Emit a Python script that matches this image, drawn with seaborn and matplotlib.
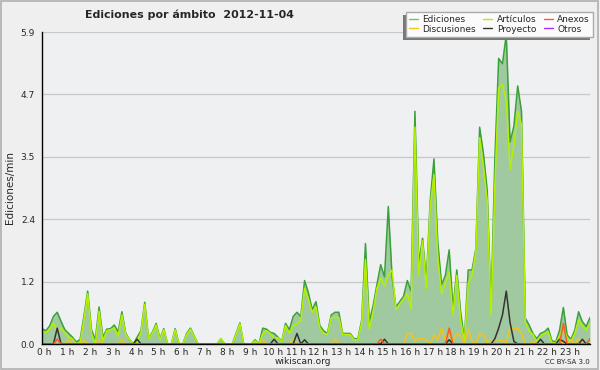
import numpy as np
import pandas as pd
import matplotlib
matplotlib.use('Agg')
import matplotlib.pyplot as plt
import matplotlib.transforms as mtransforms
from matplotlib.lines import Line2D
from matplotlib.patches import Rectangle
from matplotlib.ticker import MultipleLocator
import seaborn as sns

# Plot style settings
sns.set_style('white')
plt.rcParams['font.family'] = ['DejaVu Sans']

# Data: edits per minute, one value every 10 minutes (0 h .. 24 h)
hours = np.arange(145) / 6

ediciones = [
    0.29, 0.25, 0.34, 0.52, 0.60, 0.43, 0.27, 0.20, 0.13, 0.04, 0.08, 0.52,
    1.00, 0.27, 0.08, 0.70, 0.13, 0.28, 0.29, 0.36, 0.23, 0.61, 0.20, 0.09,
    0.00, 0.13, 0.25, 0.79, 0.11, 0.22, 0.39, 0.10, 0.29, 0.00, 0.00, 0.29,
    0.00, 0.00, 0.20, 0.30, 0.15, 0.00, 0.00, 0.00, 0.00, 0.00, 0.00, 0.10,
    0.00, 0.00, 0.00, 0.20, 0.40, 0.00, 0.00, 0.00, 0.08, 0.00, 0.30, 0.28,
    0.22, 0.20, 0.13, 0.05, 0.39, 0.27, 0.52, 0.60, 0.52, 1.20, 0.97, 0.65,
    0.80, 0.35, 0.25, 0.20, 0.55, 0.60, 0.60, 0.20, 0.20, 0.20, 0.10, 0.10,
    0.45, 1.90, 0.42, 0.72, 1.12, 1.50, 1.27, 2.60, 1.27, 0.70, 0.80, 0.90,
    1.20, 0.99, 4.40, 1.52, 2.00, 1.20, 2.70, 3.50, 1.93, 1.12, 1.30, 1.78,
    0.67, 1.40, 0.61, 0.08, 1.40, 1.40, 1.80, 4.10, 3.60, 2.90, 0.70, 3.50,
    5.40, 5.30, 5.85, 3.82, 4.12, 4.88, 4.40, 0.49, 0.36, 0.20, 0.10, 0.20,
    0.23, 0.30, 0.06, 0.04, 0.26, 0.69, 0.17, 0.09, 0.26, 0.61, 0.42, 0.33,
    0.50,
]

articulos = [
    0.23, 0.22, 0.28, 0.40, 0.22, 0.30, 0.22, 0.12, 0.10, 0.00, 0.02, 0.45,
    0.95, 0.20, 0.00, 0.62, 0.05, 0.25, 0.27, 0.30, 0.15, 0.55, 0.18, 0.09,
    0.00, 0.04, 0.22, 0.75, 0.10, 0.20, 0.36, 0.08, 0.27, 0.00, 0.00, 0.27,
    0.00, 0.00, 0.18, 0.28, 0.14, 0.00, 0.00, 0.00, 0.00, 0.00, 0.00, 0.10,
    0.00, 0.00, 0.00, 0.18, 0.38, 0.00, 0.00, 0.00, 0.06, 0.00, 0.20, 0.25,
    0.20, 0.10, 0.12, 0.04, 0.35, 0.20, 0.35, 0.38, 0.45, 1.05, 0.85, 0.60,
    0.70, 0.30, 0.20, 0.18, 0.50, 0.50, 0.50, 0.18, 0.18, 0.18, 0.08, 0.08,
    0.40, 1.60, 0.28, 0.60, 1.05, 1.25, 1.10, 1.30, 1.40, 0.65, 0.75, 0.85,
    0.95, 0.65, 4.10, 1.30, 1.95, 1.05, 2.60, 3.20, 1.65, 0.95, 1.15, 1.35,
    0.55, 1.30, 0.45, 0.05, 1.15, 1.30, 1.75, 3.90, 3.35, 2.70, 0.55, 3.00,
    4.85, 4.90, 4.60, 3.30, 3.76, 4.40, 4.15, 0.40, 0.25, 0.18, 0.05, 0.15,
    0.20, 0.23, 0.02, 0.02, 0.15, 0.33, 0.12, 0.05, 0.20, 0.45, 0.36, 0.26,
    0.39,
]

discusiones = [
    0.00, 0.00, 0.00, 0.00, 0.00, 0.00, 0.00, 0.08, 0.00, 0.00, 0.00, 0.07,
    0.00, 0.00, 0.00, 0.08, 0.00, 0.00, 0.00, 0.00, 0.00, 0.08, 0.00, 0.00,
    0.00, 0.00, 0.00, 0.00, 0.00, 0.00, 0.00, 0.00, 0.00, 0.00, 0.00, 0.00,
    0.00, 0.00, 0.00, 0.00, 0.00, 0.00, 0.00, 0.00, 0.00, 0.00, 0.00, 0.00,
    0.00, 0.00, 0.00, 0.00, 0.00, 0.00, 0.00, 0.00, 0.00, 0.00, 0.08, 0.00,
    0.00, 0.00, 0.00, 0.00, 0.00, 0.00, 0.10, 0.00, 0.00, 0.00, 0.00, 0.00,
    0.00, 0.00, 0.00, 0.00, 0.00, 0.09, 0.00, 0.00, 0.00, 0.00, 0.00, 0.00,
    0.00, 0.00, 0.00, 0.00, 0.00, 0.00, 0.00, 0.00, 0.00, 0.00, 0.00, 0.00,
    0.20, 0.20, 0.05, 0.10, 0.10, 0.08, 0.00, 0.17, 0.08, 0.30, 0.08, 0.20,
    0.05, 0.20, 0.15, 0.00, 0.28, 0.05, 0.00, 0.20, 0.18, 0.03, 0.08, 0.08,
    0.08, 0.06, 0.03, 0.30, 0.30, 0.30, 0.20, 0.00, 0.00, 0.04, 0.00, 0.00,
    0.00, 0.00, 0.00, 0.00, 0.09, 0.00, 0.00, 0.08, 0.00, 0.10, 0.00, 0.00,
    0.00,
]

proyecto = [
    0.00, 0.00, 0.00, 0.00, 0.30, 0.00, 0.00, 0.00, 0.00, 0.00, 0.00, 0.00,
    0.00, 0.00, 0.00, 0.00, 0.00, 0.00, 0.00, 0.00, 0.00, 0.00, 0.00, 0.00,
    0.00, 0.09, 0.00, 0.00, 0.00, 0.00, 0.00, 0.00, 0.00, 0.00, 0.00, 0.00,
    0.00, 0.00, 0.00, 0.00, 0.00, 0.00, 0.00, 0.00, 0.00, 0.00, 0.00, 0.00,
    0.00, 0.00, 0.00, 0.00, 0.00, 0.00, 0.00, 0.00, 0.00, 0.00, 0.00, 0.00,
    0.00, 0.09, 0.00, 0.00, 0.00, 0.00, 0.00, 0.20, 0.00, 0.08, 0.00, 0.00,
    0.00, 0.00, 0.00, 0.00, 0.00, 0.00, 0.00, 0.00, 0.00, 0.00, 0.00, 0.00,
    0.00, 0.00, 0.00, 0.00, 0.00, 0.00, 0.09, 0.00, 0.00, 0.00, 0.00, 0.00,
    0.00, 0.00, 0.00, 0.00, 0.00, 0.00, 0.00, 0.00, 0.00, 0.00, 0.00, 0.08,
    0.00, 0.00, 0.00, 0.00, 0.00, 0.00, 0.00, 0.00, 0.00, 0.00, 0.00, 0.10,
    0.30, 0.55, 1.00, 0.40, 0.05, 0.00, 0.00, 0.00, 0.00, 0.00, 0.00, 0.09,
    0.00, 0.00, 0.00, 0.00, 0.09, 0.05, 0.00, 0.00, 0.00, 0.00, 0.09, 0.00,
    0.00,
]

anexos = [
    0.00, 0.00, 0.00, 0.00, 0.09, 0.00, 0.00, 0.00, 0.00, 0.00, 0.00, 0.00,
    0.00, 0.00, 0.00, 0.00, 0.00, 0.00, 0.00, 0.00, 0.00, 0.00, 0.00, 0.00,
    0.00, 0.00, 0.00, 0.00, 0.00, 0.00, 0.00, 0.00, 0.00, 0.00, 0.00, 0.00,
    0.00, 0.00, 0.00, 0.00, 0.00, 0.00, 0.00, 0.00, 0.00, 0.00, 0.00, 0.00,
    0.00, 0.00, 0.00, 0.00, 0.00, 0.00, 0.00, 0.00, 0.00, 0.00, 0.00, 0.00,
    0.00, 0.00, 0.00, 0.00, 0.00, 0.00, 0.00, 0.00, 0.00, 0.00, 0.00, 0.00,
    0.00, 0.00, 0.00, 0.00, 0.00, 0.00, 0.00, 0.00, 0.00, 0.00, 0.00, 0.00,
    0.00, 0.00, 0.00, 0.00, 0.00, 0.09, 0.00, 0.00, 0.00, 0.00, 0.00, 0.00,
    0.00, 0.00, 0.00, 0.00, 0.00, 0.00, 0.00, 0.00, 0.00, 0.00, 0.00, 0.30,
    0.00, 0.00, 0.00, 0.00, 0.00, 0.00, 0.00, 0.00, 0.00, 0.00, 0.00, 0.00,
    0.00, 0.00, 0.00, 0.00, 0.00, 0.00, 0.00, 0.00, 0.00, 0.00, 0.00, 0.00,
    0.00, 0.00, 0.00, 0.00, 0.00, 0.39, 0.00, 0.00, 0.00, 0.00, 0.00, 0.00,
    0.10,
]

otros = [0.0] * 145

ytick_values = [0, 1.18, 2.36, 3.54, 4.72, 5.9]
ytick_labels = ['0.0', '1.2', '2.4', '3.5', '4.7', '5.9']
hour_labels = [f'{h} h' for h in range(24)]

colors = {
    'Otros': '#9b30ff',
    'Ediciones': '#3aa03a',
    'Artículos': '#b4f000',
    'Discusiones': '#f6c21c',
    'Proyecto': '#333333',
    'Anexos': '#ff5a1f',
}
draw_order = ['Otros', 'Ediciones', 'Artículos', 'Discusiones', 'Proyecto', 'Anexos']

df = pd.DataFrame({
    'hora': hours,
    'Ediciones': ediciones,
    'Artículos': articulos,
    'Discusiones': discusiones,
    'Proyecto': proyecto,
    'Anexos': anexos,
    'Otros': otros,
})
long_df = df.melt(id_vars='hora', var_name='ambito', value_name='valor')

# Figure
fig = plt.figure(figsize=(6, 3.7), dpi=100, facecolor='#efeff0')
fig.patches.append(Rectangle((0.002, 0.003), 0.995, 0.994, transform=fig.transFigure,
                             fill=False, edgecolor='#b0b0b0', lw=1.2))
ax = fig.add_axes([42 / 600, 26 / 370, 548 / 600, 312 / 370])
ax.set_facecolor('#eff0f2')

ax.fill_between(df['hora'], df['Ediciones'], color='#a0c9a0', lw=0, zorder=1)
sns.lineplot(data=long_df, x='hora', y='valor', hue='ambito', hue_order=draw_order,
             palette=colors, legend=False, linewidth=1.1, ax=ax, zorder=2)

ax.set_xlim(0, 24)
ax.set_ylim(0, 5.9)
ax.set_xlabel('')
ax.set_ylabel('')

ax.set_yticks(ytick_values)
ax.set_yticklabels(ytick_labels, fontsize=6.5)
ax.yaxis.grid(True, color='#c8c8c8', lw=0.9)
ax.set_xticks(range(24))
ax.set_xticklabels(hour_labels, fontsize=6.5)
ax.xaxis.set_minor_locator(MultipleLocator(1 / 6))
ax.tick_params(axis='both', which='both', direction='out', color='black', width=1)
ax.tick_params(axis='x', which='major', length=3, pad=0)
ax.tick_params(axis='x', which='minor', length=3)
ax.tick_params(axis='y', length=4, pad=1)
shift = mtransforms.ScaledTranslation(2.5 / 100, 0, fig.dpi_scale_trans)
for lab in ax.get_xticklabels():
    lab.set_transform(lab.get_transform() + shift)

for side in ['top', 'right']:
    ax.spines[side].set_visible(False)
for side in ['left', 'bottom']:
    ax.spines[side].set_color('black')
    ax.spines[side].set_linewidth(1)

# Legend with a drop shadow to the lower left
legend_names = ['Ediciones', 'Discusiones', 'Artículos', 'Proyecto', 'Anexos', 'Otros']
legend_colors = ['#66cc66', '#f6c21c', '#b4f000', '#333333', '#ff5a1f', '#9b30ff']
handles = [Line2D([], [], color=c, lw=1) for c in legend_colors]
leg = ax.legend(handles, legend_names, ncol=3, loc='upper right',
                bbox_to_anchor=(593 / 600, 1 - 12 / 370), bbox_transform=fig.transFigure,
                borderaxespad=0, fontsize=6.5, frameon=True, fancybox=False,
                handlelength=1.0, handletextpad=0.5, columnspacing=0.8,
                labelspacing=0.05, borderpad=0.35)
leg.get_frame().set_facecolor('#fbfbfb')
leg.get_frame().set_edgecolor('#aaaaaa')
leg.get_frame().set_alpha(1)
leg.set_zorder(6)
fig.canvas.draw()
bb = leg.get_window_extent().transformed(fig.transFigure.inverted())
ax.add_patch(Rectangle((bb.x0 - 3 / 600, bb.y0 - 3 / 370), bb.width, bb.height,
                       transform=fig.transFigure, color='#777777', lw=0,
                       clip_on=False, zorder=5))

# Texts
fig.text(85 / 600, 1 - 15 / 370, 'Ediciones por ámbito  2012-11-04',
         fontsize=7.9, fontweight='bold', va='center', ha='left')
fig.text(10 / 600, 1 - 188 / 370, 'Ediciones/min', rotation=90,
         fontsize=7.5, va='center', ha='center')
fig.text(303 / 600, 1 - 361 / 370, 'wikiscan.org', fontsize=6.5, va='center', ha='center')
fig.text(590 / 600, 1 - 362 / 370, 'CC BY-SA 3.0', fontsize=5, va='center', ha='right')

fig.savefig('out.png', dpi=100, facecolor=fig.get_facecolor())
